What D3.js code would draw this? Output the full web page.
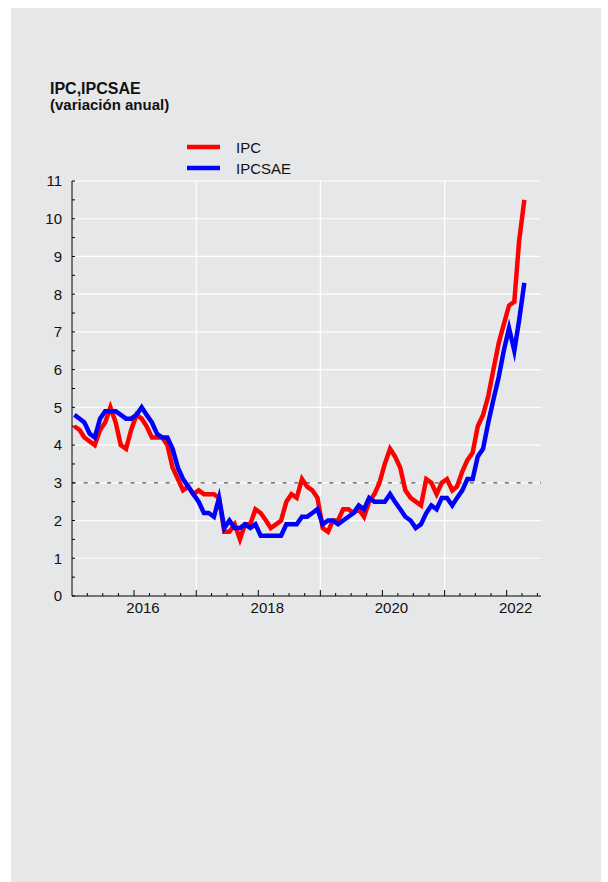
<!DOCTYPE html>
<html>
<head>
<meta charset="utf-8">
<script src="https://cdn.jsdelivr.net/npm/d3@7"></script>
<style>
  html, body { margin: 0; padding: 0; background: #fff; }
  svg { display: block; font-family: 'Liberation Sans', Arial, Helvetica, sans-serif; }
</style>
</head>
<body>
<div id="chart"></div>
<script>
// --- Data (variación anual, %), monthly Jan 2015 .. Apr 2022 ---
const startMonth = new Date(2015, 0, 1);
const endMonth = new Date(2022, 4, 1);

const ipc = [
    4.5, 4.4, 4.2, 4.1, 4.0, 4.4, 4.6, 5.0, 4.6, 4.0, 3.9, 4.4,   // 2015
    4.8, 4.7, 4.5, 4.2, 4.2, 4.2, 4.0, 3.4, 3.1, 2.8, 2.9, 2.7,   // 2016
    2.8, 2.7, 2.7, 2.7, 2.6, 1.7, 1.7, 1.9, 1.5, 1.9, 1.9, 2.3,   // 2017
    2.2, 2.0, 1.8, 1.9, 2.0, 2.5, 2.7, 2.6, 3.1, 2.9, 2.8, 2.6,   // 2018
    1.8, 1.7, 2.0, 2.0, 2.3, 2.3, 2.2, 2.3, 2.1, 2.5, 2.7, 3.0,   // 2019
    3.5, 3.9, 3.7, 3.4, 2.8, 2.6, 2.5, 2.4, 3.1, 3.0, 2.7, 3.0,   // 2020
    3.1, 2.8, 2.9, 3.3, 3.6, 3.8, 4.5, 4.8, 5.3, 6.0, 6.7, 7.2,   // 2021
    7.7, 7.8, 9.4, 10.5                                           // 2022
];

const ipcsae = [
    4.8, 4.7, 4.6, 4.3, 4.2, 4.7, 4.9, 4.9, 4.9, 4.8, 4.7, 4.7,   // 2015
    4.8, 5.0, 4.8, 4.6, 4.3, 4.2, 4.2, 3.9, 3.4, 3.1, 2.9, 2.7,   // 2016
    2.5, 2.2, 2.2, 2.1, 2.6, 1.8, 2.0, 1.8, 1.8, 1.9, 1.8, 1.9,   // 2017
    1.6, 1.6, 1.6, 1.6, 1.6, 1.9, 1.9, 1.9, 2.1, 2.1, 2.2, 2.3,   // 2018
    1.9, 2.0, 2.0, 1.9, 2.0, 2.1, 2.2, 2.4, 2.3, 2.6, 2.5, 2.5,   // 2019
    2.5, 2.7, 2.5, 2.3, 2.1, 2.0, 1.8, 1.9, 2.2, 2.4, 2.3, 2.6,   // 2020
    2.6, 2.4, 2.6, 2.8, 3.1, 3.1, 3.7, 3.9, 4.6, 5.2, 5.8, 6.5,   // 2021
    7.1, 6.5, 7.3, 8.3                                            // 2022
];

const seriesNames = ['IPC', 'IPCSAE'];
const seriesColors = ['#ff0000', '#0000ff'];
const yTicks = [0, 1, 2, 3, 4, 5, 6, 7, 8, 9, 10, 11];
const yearLabels = [2016, 2018, 2020, 2022];
const gridYears = [2017, 2019, 2021];
const target = 3;

// --- Layout ---
const W = 608, H = 882;
const plot = {left: 72, right: 541, top: 181, bottom: 596};

const svg = d3.select('#chart').append('svg')
    .attr('width', W).attr('height', H);

// gray panel
svg.append('rect')
    .attr('x', 11).attr('y', 8)
    .attr('width', 590).attr('height', H)
    .attr('fill', '#e6e7e8');

const x = d3.scaleTime()
    .domain([new Date(2015, 0, 1), new Date(2022, 6, 22)])
    .range([plot.left, plot.right]);
const y = d3.scaleLinear().domain([0, 11]).range([plot.bottom, plot.top]);

const months = d3.timeMonth.range(startMonth, endMonth)
    .map(d => new Date(d.getFullYear(), d.getMonth(), 15));

// --- Grid ---
svg.append('g').selectAll('line').data(yTicks.filter(v => v > 0))
    .join('line')
    .attr('x1', plot.left).attr('x2', plot.right)
    .attr('y1', d => y(d)).attr('y2', d => y(d))
    .attr('stroke', '#fff').attr('stroke-width', 1.2);

svg.append('g').selectAll('line').data(gridYears)
    .join('line')
    .attr('x1', d => x(new Date(d, 0, 1))).attr('x2', d => x(new Date(d, 0, 1)))
    .attr('y1', plot.top).attr('y2', plot.bottom)
    .attr('stroke', '#fff').attr('stroke-width', 1.2);

// target line (3%)
svg.append('line')
    .attr('x1', plot.left).attr('x2', plot.right)
    .attr('y1', y(target)).attr('y2', y(target))
    .attr('stroke', '#555').attr('stroke-width', 1.3)
    .attr('stroke-dasharray', '4,7.7');

// --- Axes ---
const yAxis = svg.append('g').attr('transform', `translate(${plot.left},0)`);
yAxis.append('line')
    .attr('y1', plot.top).attr('y2', plot.bottom)
    .attr('stroke', '#000').attr('stroke-width', 1);
yAxis.selectAll('.tk').data(d3.range(0, 11.01, 0.5))
    .join('line').attr('class', 'tk')
    .attr('x1', 0).attr('x2', 3)
    .attr('y1', d => y(d)).attr('y2', d => y(d))
    .attr('stroke', '#000').attr('stroke-width', 1);
yAxis.selectAll('text').data(yTicks)
    .join('text')
    .attr('x', -10).attr('y', d => y(d)).attr('dy', '0.36em')
    .attr('text-anchor', 'end')
    .style('font-size', '15px').style('fill', '#111')
    .text(d => d);

const xAxis = svg.append('g').attr('transform', `translate(0,${plot.bottom})`);
xAxis.append('line')
    .attr('x1', plot.left).attr('x2', plot.right)
    .attr('stroke', '#000').attr('stroke-width', 1);
const quarters = d3.timeMonth.every(3).range(new Date(2015, 3, 1), new Date(2022, 7, 1));
xAxis.selectAll('.tk').data(quarters)
    .join('line').attr('class', 'tk')
    .attr('x1', d => x(d)).attr('x2', d => x(d))
    .attr('y1', 0).attr('y2', d => d.getMonth() === 0 ? -6 : -3)
    .attr('stroke', '#000').attr('stroke-width', 1);
xAxis.selectAll('text').data(yearLabels)
    .join('text')
    .attr('x', d => x(new Date(d, 0, 1)) + 9).attr('y', 17)
    .attr('text-anchor', 'middle')
    .style('font-size', '15px').style('fill', '#111')
    .text(d => d);

// --- Series ---
const line = d3.line()
    .x((d, i) => x(months[i]))
    .y(d => y(d));

[ipc, ipcsae].forEach((vals, k) => {
    svg.append('path')
        .datum(vals)
        .attr('d', line)
        .attr('fill', 'none')
        .attr('stroke', seriesColors[k])
        .attr('stroke-width', 4.5)
        .attr('stroke-linejoin', 'miter')
        .attr('stroke-miterlimit', 6);
});

// --- Title ---
svg.append('text')
    .attr('x', 50).attr('y', 94)
    .style('font-size', '16px').style('font-weight', '700').style('fill', '#111')
    .text('IPC,IPCSAE');
svg.append('text')
    .attr('x', 50).attr('y', 110)
    .style('font-size', '15px').style('font-weight', '700').style('fill', '#111')
    .text('(variación anual)');

// --- Legend ---
seriesNames.forEach((name, k) => {
    const ly = 147 + k * 21;
    svg.append('line')
        .attr('x1', 187).attr('x2', 220)
        .attr('y1', ly).attr('y2', ly)
        .attr('stroke', seriesColors[k]).attr('stroke-width', 4.5);
    svg.append('text')
        .attr('x', 236).attr('y', ly + 6)
        .style('font-size', '15px').style('fill', '#111')
        .text(name);
});
</script>
</body>
</html>
